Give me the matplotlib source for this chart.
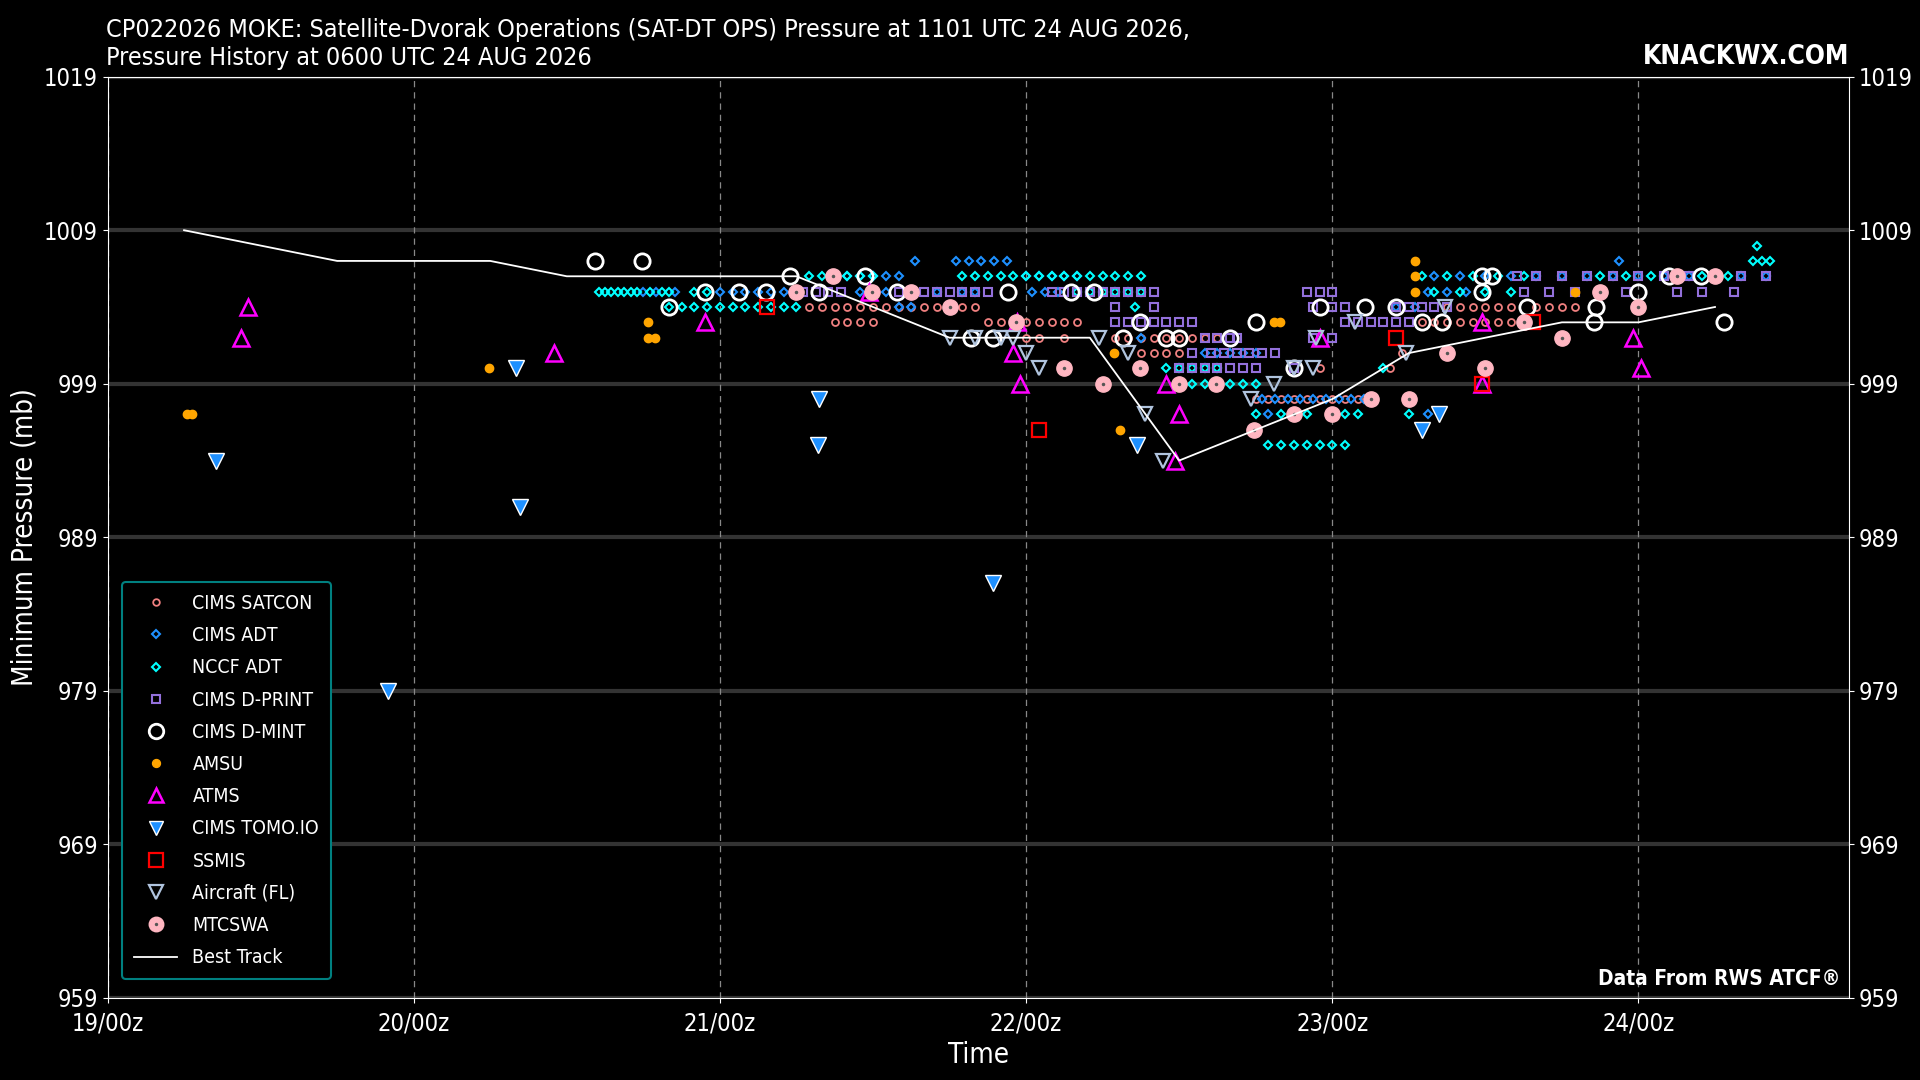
import matplotlib
matplotlib.use("Agg")
import matplotlib.pyplot as plt

plt.rcParams['font.family'] = ['Liberation Sans Narrow', 'DejaVu Sans']
plt.rcParams['font.stretch'] = 'condensed'

# hours since 19/00z, pressure (mb)
best_h = [6, 18, 30, 36, 54, 66, 77, 84, 90, 96, 102, 108, 114, 120, 126]
best_p = [1009, 1007, 1007, 1006, 1006, 1002, 1002, 994, 996, 998, 1001, 1002, 1003, 1003, 1004]

# dense series: pressure -> hours
satcon_rows = {
    1004: [55, 56, 57, 58, 59, 60, 61, 62, 63, 64, 65, 66, 67, 68, 105, 106, 107, 108, 109, 110, 112, 113, 114, 115],
    1003: [57, 58, 59, 60, 69, 70, 72, 73, 74, 75, 76, 103, 104, 105, 106, 107, 108, 109, 110, 111],
    1002: [72, 73, 75, 79, 80, 81, 82, 83, 84, 85, 86, 87],
    1001: [81, 82, 83, 84, 101.5],
    1000: [95, 100.5],
    998: [90, 91, 92, 93, 94, 95, 96, 97, 98, 99],
}
cadt_rows = {
    1007: [63.3, 66.5, 67.5, 68.5, 69.5, 70.5, 118.5],
    1006: [58, 59, 60, 61, 62, 72, 73, 74, 75, 76, 104, 106, 108, 110, 112, 114, 116, 118, 120, 122, 124, 126, 128, 130],
    1005: [42, 43, 44.5, 48, 49, 50, 51, 52, 53, 59, 61, 63, 65, 67, 68, 72.5, 73.5, 74.5, 103.5, 105, 106.5],
    1004: [62, 63, 101, 102.5],
    1002: [81],
    1001: [86, 87, 88, 89, 90],
    998: [90.5, 91.5, 92.5, 93.5, 94.5, 95.5, 96.5, 97.5, 98.5],
    997: [91, 93, 103.5],
}
nccf_rows = {
    1008: [129.3],
    1007: [129, 129.7, 130.3],
    1006: [55, 56, 57, 58, 59, 60, 67, 68, 69, 70, 71, 72, 73, 74, 75, 76, 77, 78, 79, 80, 81, 103, 105, 107, 109, 111, 117, 119, 121, 123, 125, 127],
    1005: [38.5, 39, 39.5, 40, 40.5, 41, 41.5, 42.5, 43.5, 44, 46, 47, 76, 77, 78, 79, 80, 81, 104, 106, 108, 110],
    1004: [44, 45, 46, 47, 48, 49, 50, 51, 52, 53, 54, 80.5],
    1000: [83, 84, 85, 86, 87, 100],
    999: [84, 85, 86, 87, 88, 89, 90],
    997: [90, 92, 94, 96, 97, 98, 102],
    995: [91, 92, 93, 94, 95, 96, 97],
}
dprint_rows = {
    1006: [110.5, 112, 114, 116, 118, 120, 122, 124, 126, 128, 130],
    1005: [54.5, 55.5, 56.5, 57.5, 60, 62, 63, 64, 65, 66, 67, 68, 69, 74, 75, 76, 77, 78, 79, 80, 81, 82, 94, 95, 96, 111, 113, 115, 117, 119, 123, 125, 127.5],
    1004: [79, 82, 94.5, 96, 97, 101, 102, 103, 104, 105],
    1003: [79, 80, 81, 82, 83, 84, 85, 97, 98, 99, 100, 101, 102],
    1002: [86, 87, 88, 88.5, 94.5, 96],
    1001: [85, 86.5, 87.5, 88.5, 89.5, 90.5, 91.5],
    1000: [84, 85, 86, 87, 88, 89, 90, 93],
}
dmint_h = [38.2, 41.9, 44, 46.8, 49.5, 51.6, 53.5, 55.8, 59.4, 61.9, 67.7, 69.4, 70.6, 75.5, 77.3, 79.6,
           80.9, 83, 84, 88, 90, 93, 95, 98.6, 101, 103, 104.6, 107.7, 108.5, 107.7, 111.3, 116.5, 116.7,
           120, 122.4, 124.9, 126.7]
dmint_p = [1007, 1007, 1004, 1005, 1005, 1005, 1006, 1005, 1006, 1005, 1002, 1002, 1005, 1005, 1005, 1002,
           1003, 1002, 1002, 1002, 1003, 1000, 1004, 1004, 1004, 1003, 1003, 1006, 1006, 1005, 1004, 1003, 1004,
           1005, 1006, 1006, 1003]
amsu_h = [6.2, 6.6, 29.9, 42.4, 42.4, 42.9, 78.9, 79.4, 91.4, 91.9, 102.5, 102.5, 102.5, 115]
amsu_p = [997, 997, 1000, 1003, 1002, 1002, 1001, 996, 1003, 1003, 1007, 1006, 1005, 1005]
atms_h = [10.5, 11, 35, 46.8, 59.7, 71, 71.3, 71.5, 83, 84, 83.7, 95, 107.7, 107.7, 119.6, 120.2]
atms_p = [1002, 1004, 1001, 1003, 1005, 1001, 1003, 999, 999, 997, 994, 1002, 1003, 999, 1002, 1000]
tomo_h = [8.5, 22, 32, 32.3, 55.8, 55.7, 69.4, 80.7, 103, 104.4]
tomo_p = [994, 979, 1000, 991, 998, 995, 986, 995, 996, 997]
ssmis_h = [51.7, 73, 101, 107.7, 111.7]
ssmis_p = [1004, 996, 1002, 999, 1003]
air_h = [66, 68, 70, 71, 72, 73, 77.7, 80, 81.3, 82.7, 89.6, 91.4, 93, 94.5, 94.7, 97.8, 101.8, 104.8]
air_p = [1002, 1002, 1002, 1002, 1001, 1000, 1002, 1001, 997, 994, 998, 999, 1000, 1000, 1002, 1003, 1001, 1004]
mtc_h = [54, 56.9, 59.9, 63, 66, 71.2, 75, 78, 80.9, 84, 86.9, 89.9, 93, 96, 99, 102, 105, 108, 111, 114,
         117, 120, 123, 126]
mtc_p = [1005, 1006, 1005, 1005, 1004, 1003, 1000, 999, 1000, 999, 999, 996, 997, 997, 998, 998, 1001, 1000,
         1003, 1002, 1005, 1004, 1006, 1006]

day_ticks = [0, 24, 48, 72, 96, 120]
day_labels = ['19/00z', '20/00z', '21/00z', '22/00z', '23/00z', '24/00z']
p_ticks = [959, 969, 979, 989, 999, 1009, 1019]


def flatten(rows):
    hs, ps = [], []
    for p, hours in rows.items():
        hs += hours
        ps += [p] * len(hours)
    return hs, ps


fig = plt.figure(figsize=(19.2, 10.8), dpi=100, facecolor='black')
ax = fig.add_axes([0.056, 0.076, 0.907, 0.853], facecolor='black')

for p in p_ticks:
    ax.axhline(p, color='#333333', lw=3, zorder=0)
for d in day_ticks:
    ax.axvline(d, color='#888888', lw=0.9, ls=(0, (5, 4)), zorder=0)

h, p = flatten(satcon_rows)
ax.plot(h, p, 'o', ms=5, mfc='none', mec='#f08080', mew=1.3, label='CIMS SATCON')
h, p = flatten(cadt_rows)
ax.plot(h, p, 'D', ms=4.5, mfc='none', mec='#1e90ff', mew=1.5, label='CIMS ADT')
h, p = flatten(nccf_rows)
ax.plot(h, p, 'D', ms=4.5, mfc='none', mec='cyan', mew=1.5, label='NCCF ADT')
h, p = flatten(dprint_rows)
ax.plot(h, p, 's', ms=5.5, mfc='none', mec='#9370db', mew=1.5, label='CIMS D-PRINT')
ax.plot(dmint_h, dmint_p, 'o', ms=11, mfc='none', mec='white', mew=2, label='CIMS D-MINT')
ax.plot(amsu_h, amsu_p, 'o', ms=6, color='orange', mec='orange', label='AMSU')
ax.plot(atms_h, atms_p, '^', ms=11, mfc='none', mec='magenta', mew=1.8, label='ATMS')
ax.plot(tomo_h, tomo_p, 'v', ms=11, color='#1e90ff', mec='white', mew=1, label='CIMS TOMO.IO')
ax.plot(ssmis_h, ssmis_p, 's', ms=10, mfc='none', mec='red', mew=1.6, label='SSMIS')
ax.plot(air_h, air_p, 'v', ms=10, mfc='none', mec='#b0c4de', mew=1.6, label='Aircraft (FL)')
m1, = ax.plot(mtc_h, mtc_p, 'o', ms=11, color='#ffb6c1', mec='#ffb6c1')
m2, = ax.plot(mtc_h, mtc_p, '.', ms=3, color='#555555')
bt, = ax.plot(best_h, best_p, color='white', lw=1.3, label='Best Track')

handles, labels = ax.get_legend_handles_labels()
handles = handles[:-1] + [(m1, m2), handles[-1]]
labels = labels[:-1] + ['MTCSWA', labels[-1]]
leg = ax.legend(handles, labels, loc='lower left', bbox_to_anchor=(0.003, 0.01), fontsize=14,
                facecolor='black', edgecolor='#008080', labelcolor='white', framealpha=1,
                labelspacing=0.68, markerscale=0.95, borderpad=0.6, handlelength=2.2)
leg.get_frame().set_linewidth(1.5)

ax.set_xlim(0, 136.5)
ax.set_ylim(959, 1019)
ax.set_xticks(day_ticks)
ax.set_xticklabels(day_labels)
ax.set_yticks(p_ticks)
ax.tick_params(colors='white', labelsize=17, right=True, labelright=True)
ax.tick_params(axis='x', pad=6)
for s in ax.spines.values():
    s.set_color('white')
ax.set_xlabel('Time', color='white', fontsize=20)
ax.set_ylabel('Minimum Pressure (mb)', color='white', fontsize=20, labelpad=4)

fig.text(0.055, 0.935, 'CP022026 MOKE: Satellite-Dvorak Operations (SAT-DT OPS) Pressure at 1101 UTC 24 AUG 2026,\n'
         'Pressure History at 0600 UTC 24 AUG 2026', color='white', fontsize=18, ha='left', va='bottom',
         linespacing=1.2)
fig.text(0.963, 0.935, 'KNACKWX.COM', color='white', fontsize=19, fontweight='bold', ha='right', va='bottom')
ax.text(0.995, 0.01, 'Data From RWS ATCF®', color='white', fontsize=15, fontweight='bold', ha='right',
        va='bottom', transform=ax.transAxes)

fig.savefig('out.png', dpi=100, facecolor='black')
